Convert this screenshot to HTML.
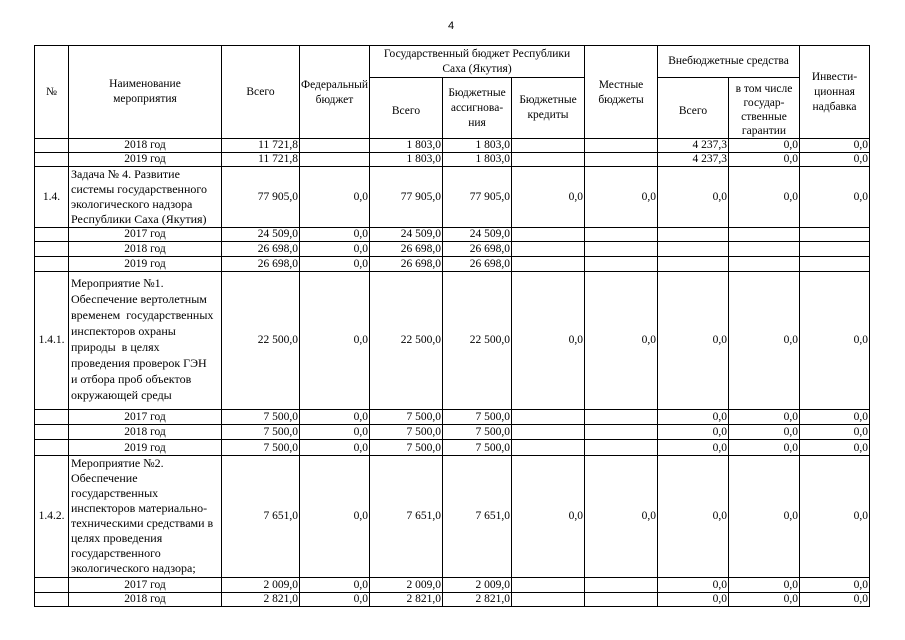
<!DOCTYPE html>
<html><head><meta charset="utf-8"><style>
body{margin:0;width:905px;height:640px;background:#fff;position:relative;font-family:"Liberation Serif",serif;color:#000;}
.pn{position:absolute;left:448px;top:20px;font:11px "Liberation Sans",sans-serif;}
table{position:absolute;left:34px;top:45px;border-collapse:collapse;table-layout:fixed;font-size:11.5px;}
td{border:1px solid #000;padding:0 1px;overflow:hidden;line-height:13px;}
.h{text-align:center;vertical-align:middle;line-height:15px;}
.r{text-align:right;vertical-align:bottom;}
.c{text-align:center;vertical-align:bottom;}
.rm{text-align:right;vertical-align:middle;}
.t{text-align:left;vertical-align:top;line-height:16px;padding-left:2px;font-size:12px;}
.n{text-align:center;vertical-align:middle;}
</style></head><body>
<div class="pn">4</div>
<table>
<colgroup><col style="width:34px"><col style="width:153px"><col style="width:78px"><col style="width:70px"><col style="width:73px"><col style="width:69px"><col style="width:73px"><col style="width:73px"><col style="width:71px"><col style="width:71px"><col style="width:70px"></colgroup>
<tr style="height:32px"><td class="h" rowspan="2">№</td><td class="h" rowspan="2">Наименование<br>мероприятия</td><td class="h" rowspan="2">Всего</td><td class="h" rowspan="2" style="vertical-align:top;padding-top:32px">Федеральный<br>бюджет</td><td class="h" colspan="3">Государственный бюджет Республики<br>Саха (Якутия)</td><td class="h" rowspan="2" style="vertical-align:top;padding-top:32px">Местные<br>бюджеты</td><td class="h" colspan="2">Внебюджетные средства</td><td class="h" rowspan="2">Инвести-<br>ционная<br>надбавка</td></tr>
<tr style="height:61px"><td class="h" style="padding-top:6px">Всего</td><td class="h">Бюджетные<br>ассигнова-<br>ния</td><td class="h">Бюджетные<br>кредиты</td><td class="h" style="padding-top:6px">Всего</td><td class="h" style="vertical-align:bottom;line-height:14px">в том числе<br>государ-<br>ственные<br>гарантии</td></tr>
<tr style="height:14px"><td></td><td class="c">2018 год</td><td class="r">11 721,8</td><td></td><td class="r">1 803,0</td><td class="r">1 803,0</td><td></td><td></td><td class="r">4 237,3</td><td class="r">0,0</td><td class="r">0,0</td></tr>
<tr style="height:14px"><td></td><td class="c">2019 год</td><td class="r">11 721,8</td><td></td><td class="r">1 803,0</td><td class="r">1 803,0</td><td></td><td></td><td class="r">4 237,3</td><td class="r">0,0</td><td class="r">0,0</td></tr>
<tr style="height:61px"><td class="n">1.4.</td><td class="t" style="line-height:15px">Задача № 4. Развитие системы государственного экологического надзора Республики Саха (Якутия)</td><td class="rm">77 905,0</td><td class="rm">0,0</td><td class="rm">77 905,0</td><td class="rm">77 905,0</td><td class="rm">0,0</td><td class="rm">0,0</td><td class="rm">0,0</td><td class="rm">0,0</td><td class="rm">0,0</td></tr>
<tr style="height:14px"><td></td><td class="c">2017 год</td><td class="r">24 509,0</td><td class="r">0,0</td><td class="r">24 509,0</td><td class="r">24 509,0</td><td></td><td></td><td></td><td></td><td></td></tr>
<tr style="height:15px"><td></td><td class="c">2018 год</td><td class="r">26 698,0</td><td class="r">0,0</td><td class="r">26 698,0</td><td class="r">26 698,0</td><td></td><td></td><td></td><td></td><td></td></tr>
<tr style="height:15px"><td></td><td class="c">2019 год</td><td class="r">26 698,0</td><td class="r">0,0</td><td class="r">26 698,0</td><td class="r">26 698,0</td><td></td><td></td><td></td><td></td><td></td></tr>
<tr style="height:138px"><td class="n">1.4.1.</td><td class="t" style="padding-top:3px">Мероприятие №1.<br>Обеспечение вертолетным<br>временем&nbsp; государственных<br>инспекторов охраны<br>природы&nbsp; в целях<br>проведения проверок ГЭН<br>и отбора проб объектов<br>окружающей среды</td><td class="rm">22 500,0</td><td class="rm">0,0</td><td class="rm">22 500,0</td><td class="rm">22 500,0</td><td class="rm">0,0</td><td class="rm">0,0</td><td class="rm">0,0</td><td class="rm">0,0</td><td class="rm">0,0</td></tr>
<tr style="height:15px"><td></td><td class="c">2017 год</td><td class="r">7 500,0</td><td class="r">0,0</td><td class="r">7 500,0</td><td class="r">7 500,0</td><td></td><td></td><td class="r">0,0</td><td class="r">0,0</td><td class="r">0,0</td></tr>
<tr style="height:15px"><td></td><td class="c">2018 год</td><td class="r">7 500,0</td><td class="r">0,0</td><td class="r">7 500,0</td><td class="r">7 500,0</td><td></td><td></td><td class="r">0,0</td><td class="r">0,0</td><td class="r">0,0</td></tr>
<tr style="height:16px"><td></td><td class="c">2019 год</td><td class="r">7 500,0</td><td class="r">0,0</td><td class="r">7 500,0</td><td class="r">7 500,0</td><td></td><td></td><td class="r">0,0</td><td class="r">0,0</td><td class="r">0,0</td></tr>
<tr style="height:122px"><td class="n">1.4.2.</td><td class="t" style="line-height:15px">Мероприятие №2.<br>Обеспечение государственных инспекторов материально-техническими средствами в целях проведения государственного экологического надзора;</td><td class="rm">7 651,0</td><td class="rm">0,0</td><td class="rm">7 651,0</td><td class="rm">7 651,0</td><td class="rm">0,0</td><td class="rm">0,0</td><td class="rm">0,0</td><td class="rm">0,0</td><td class="rm">0,0</td></tr>
<tr style="height:15px"><td></td><td class="c">2017 год</td><td class="r">2 009,0</td><td class="r">0,0</td><td class="r">2 009,0</td><td class="r">2 009,0</td><td></td><td></td><td class="r">0,0</td><td class="r">0,0</td><td class="r">0,0</td></tr>
<tr style="height:14px"><td></td><td class="c">2018 год</td><td class="r">2 821,0</td><td class="r">0,0</td><td class="r">2 821,0</td><td class="r">2 821,0</td><td></td><td></td><td class="r">0,0</td><td class="r">0,0</td><td class="r">0,0</td></tr>
</table>
</body></html>
